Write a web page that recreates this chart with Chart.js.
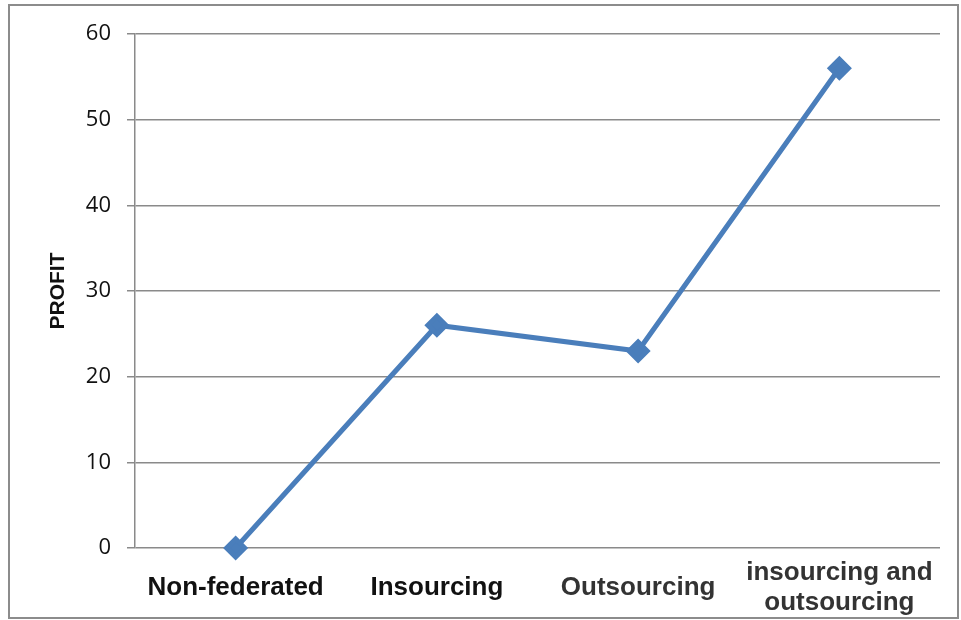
<!DOCTYPE html>
<html>
<head>
<meta charset="utf-8">
<script src="https://cdn.jsdelivr.net/npm/chart.js"></script>
<style>
  html, body { margin: 0; padding: 0; background: #fff; }
  #frame { position: absolute; left: 8px; top: 4px; width: 947px; height: 611px; border: 2px solid #8c8c8c; }
  #wrap { position: absolute; left: 0; top: 0; width: 961px; height: 620px; }
</style>
</head>
<body>
<div id="frame"></div>
<div id="wrap"><canvas id="profitChart"></canvas></div>
<script>
const categories = ['Non-federated', 'Insourcing', 'Outsourcing', ['insourcing and', 'outsourcing']];
const profit = [0, 26, 23, 56];
const yTicks = [0, 10, 20, 30, 40, 50, 60];

const ctx = document.getElementById('profitChart').getContext('2d');
const profitChart = new Chart(ctx, {
    type: 'line',
    data: {
        labels: categories,
        datasets: [{
            label: 'PROFIT',
            data: profit,
            borderColor: '#4a7ebb',
            backgroundColor: '#4a7ebb',
            borderWidth: 5,
            pointStyle: 'rectRot',
            pointRadius: 9,
            pointHoverRadius: 9,
            fill: false,
            tension: 0,
            clip: false
        }]
    },
    options: {
        responsive: true,
        maintainAspectRatio: false,
        animation: false,
        layout: { padding: { top: 34, right: 21, bottom: 0, left: 0 } },
        plugins: {
            legend: { display: false },
            tooltip: { enabled: false }
        },
        scales: {
            x: {
                offset: true,
                grid: { display: false },
                border: { display: false },
                afterFit: s => { s.height = 72; },
                ticks: {
                    maxRotation: 0,
                    autoSkip: false,
                    crossAlign: 'center',
                    padding: 17,
                    font: { family: 'Liberation Sans', size: 26, weight: 'bold', lineHeight: 1.15 },
                    color: c => c.index >= 2 ? '#333' : '#111'
                }
            },
            y: {
                min: yTicks[0],
                max: yTicks[yTicks.length - 1],
                afterFit: s => { s.width = 135; },
                afterBuildTicks: s => { s.ticks = yTicks.map(v => ({ value: v })); },
                grid: { color: '#8a8a8a', lineWidth: 1.5, tickLength: 8 },
                border: { color: '#8a8a8a', width: 1.5 },
                ticks: {
                    padding: 16,
                    font: { family: 'Open Sans', size: 22 },
                    color: '#111'
                },
                title: {
                    display: true,
                    text: 'PROFIT',
                    color: '#111',
                    font: { family: 'Liberation Sans', size: 21, weight: 'bold' },
                    padding: { top: 46, bottom: 0 }
                }
            }
        }
    }
});
</script>
</body>
</html>
